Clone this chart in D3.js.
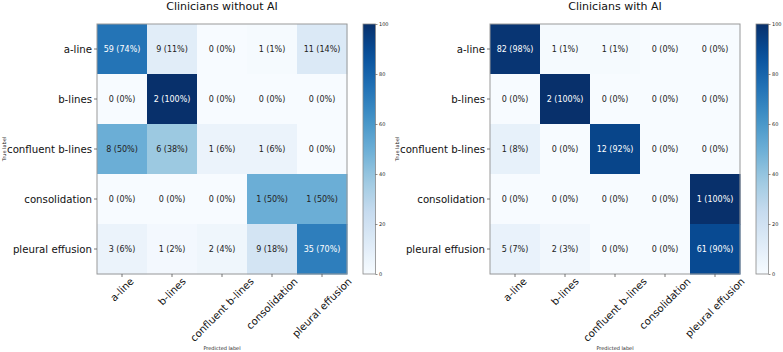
<!DOCTYPE html>
<html>
<head>
<meta charset="utf-8">
<script src="https://cdn.jsdelivr.net/npm/d3@7"></script>
<style>
  body { margin: 0; background: #fff; }
  svg text { font-family: "DejaVu Sans", sans-serif; }
</style>
</head>
<body>
<svg id="chart" width="783" height="352"></svg>
<script>
// Class labels (rows = true label, columns = predicted label)
const labels = ["a-line", "b-lines", "confluent b-lines", "consolidation", "pleural effusion"];

// Clinicians without AI
const countsWithout = [
    [59, 9, 0, 1, 11],
    [0, 2, 0, 0, 0],
    [8, 6, 1, 1, 0],
    [0, 0, 0, 1, 1],
    [3, 1, 2, 9, 35]
];
const pctWithout = [
    [74, 11, 0, 1, 14],
    [0, 100, 0, 0, 0],
    [50, 38, 6, 6, 0],
    [0, 0, 0, 50, 50],
    [6, 2, 4, 18, 70]
];

// Clinicians with AI
const countsWith = [
    [82, 1, 1, 0, 0],
    [0, 2, 0, 0, 0],
    [1, 0, 12, 0, 0],
    [0, 0, 0, 0, 1],
    [5, 2, 0, 0, 61]
];
const pctWith = [
    [98, 1, 1, 0, 0],
    [0, 100, 0, 0, 0],
    [8, 0, 92, 0, 0],
    [0, 0, 0, 0, 100],
    [7, 3, 0, 0, 90]
];

const colorbarTicks = [0, 20, 40, 60, 80, 100];

// matplotlib "Blues": linear segments between the 9 brewer colours
const color = d3.scaleLinear()
    .domain(d3.range(9).map(i => i * 100 / 8))
    .range(d3.schemeBlues[9])
    .clamp(true);

const size = 250;   // matrix is square
const svg = d3.select("#chart");

// gradient for the colour bars
const grad = svg.append("defs").append("linearGradient")
    .attr("id", "blues")
    .attr("x1", 0).attr("y1", 1).attr("x2", 0).attr("y2", 0);
d3.range(0, 101, 5).forEach(v => {
    grad.append("stop").attr("offset", v / 100).attr("stop-color", color(v));
});

function drawMatrix(left, title, counts, pct) {
    const top = 24;
    const g = svg.append("g").attr("transform", `translate(${left},${top})`);

    const x = d3.scaleBand().domain(labels).range([0, size]);
    const y = d3.scaleBand().domain(labels).range([0, size]);

    const cells = [];
    labels.forEach((r, i) => labels.forEach((c, j) => {
        cells.push({row: r, col: c, n: counts[i][j], p: pct[i][j]});
    }));

    g.selectAll(".cell")
        .data(cells)
        .enter()
        .append("rect")
        .attr("class", "cell")
        .attr("x", d => x(d.col))
        .attr("y", d => y(d.row))
        .attr("width", x.bandwidth() + 0.5)
        .attr("height", y.bandwidth() + 0.5)
        .attr("fill", d => color(d.p));

    g.selectAll(".val")
        .data(cells)
        .enter()
        .append("text")
        .attr("class", "val")
        .attr("x", d => x(d.col) + x.bandwidth() / 2)
        .attr("y", d => y(d.row) + y.bandwidth() / 2)
        .attr("text-anchor", "middle")
        .attr("dominant-baseline", "central")
        .attr("font-size", 8)
        .attr("fill", d => d.p > 50 ? "#fff" : "#222")
        .text(d => `${d.n} (${d.p}%)`);

    // frame
    g.append("rect")
        .attr("width", size).attr("height", size)
        .attr("fill", "none")
        .attr("stroke", "#999").attr("stroke-width", 1);

    // y axis (true label)
    const yAxis = g.append("g")
        .call(d3.axisLeft(y).tickSize(3).tickPadding(2));
    yAxis.select(".domain").remove();
    yAxis.selectAll("line").attr("stroke", "#555").attr("stroke-width", 0.8);
    yAxis.selectAll("text")
        .attr("font-size", 10.2)
        .attr("fill", "#111")
        .attr("dy", "0.35em");

    // x axis (predicted label), rotated labels centred on ticks
    const xAxis = g.append("g")
        .attr("transform", `translate(0,${size})`)
        .call(d3.axisBottom(x).tickSize(3));
    xAxis.select(".domain").remove();
    xAxis.selectAll("line").attr("stroke", "#555").attr("stroke-width", 0.8);
    xAxis.selectAll("text")
        .attr("font-size", 10.2)
        .attr("fill", "#111")
        .attr("text-anchor", "middle")
        .attr("dy", null)
        .attr("dominant-baseline", "central")
        .attr("y", 0)
        .attr("transform", function() {
            const w = this.getComputedTextLength();
            const half = (w + 10.2) * 0.7071 / 2;
            return `translate(0,${2 + half}) rotate(-45)`;
        });

    // titles and axis labels
    g.append("text")
        .attr("x", size / 2).attr("y", -14)
        .attr("text-anchor", "middle")
        .attr("font-size", 11)
        .attr("fill", "#111")
        .text(title);

    g.append("text")
        .attr("x", size / 2).attr("y", 326)
        .attr("text-anchor", "middle")
        .attr("font-size", 5)
        .attr("fill", "#222")
        .text("Predicted label");

    g.append("text")
        .attr("transform", `translate(-91,${size / 2}) rotate(-90)`)
        .attr("text-anchor", "middle")
        .attr("font-size", 5)
        .attr("fill", "#222")
        .text("True label");

    // colour bar
    const cb = g.append("g").attr("transform", `translate(${size + 16},0)`);
    const cbScale = d3.scaleLinear().domain([0, 100]).range([size, 0]);
    cb.append("rect")
        .attr("width", 12.5).attr("height", size)
        .attr("fill", "url(#blues)")
        .attr("stroke", "#888").attr("stroke-width", 0.8);
    const cbAxis = cb.append("g")
        .attr("transform", "translate(12.5,0)")
        .call(d3.axisRight(cbScale).tickValues(colorbarTicks).tickSize(2).tickPadding(1.5));
    cbAxis.select(".domain").remove();
    cbAxis.selectAll("line").attr("stroke", "#444").attr("stroke-width", 0.6);
    cbAxis.selectAll("text").attr("font-size", 5).attr("fill", "#222");
}

drawMatrix(97, "Clinicians without AI", countsWithout, pctWithout);
drawMatrix(490, "Clinicians with AI", countsWith, pctWith);
</script>
</body>
</html>
